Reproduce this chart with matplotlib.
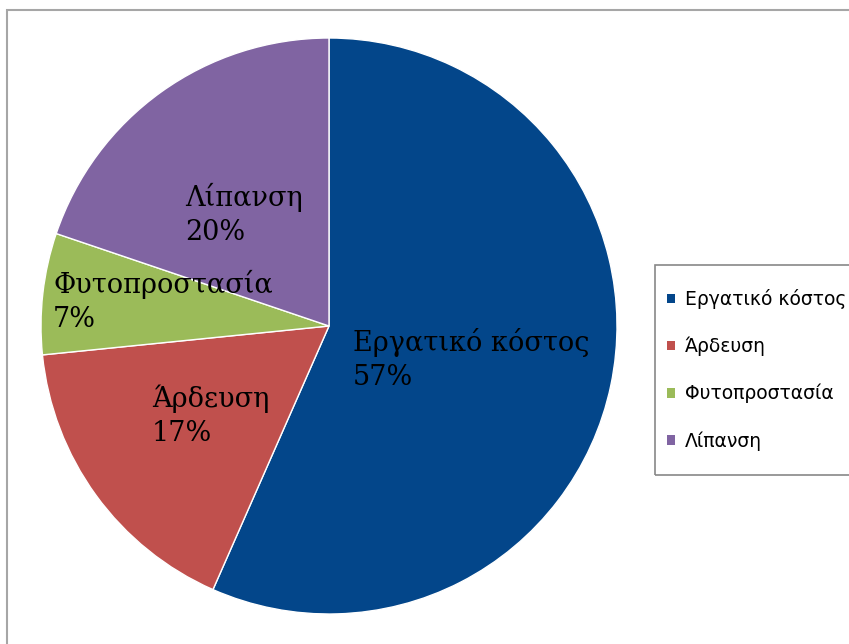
# Κατανομή κόστους καλλιέργειας - pie chart

import matplotlib.pyplot as plt
from matplotlib.patches import Rectangle, Patch

labels = ['Εργατικό κόστος', 'Άρδευση', 'Φυτοπροστασία', 'Λίπανση']
shares = [56.6, 16.8, 6.8, 19.8]
shown = ['57%', '17%', '7%', '20%']
colors = ['#03468A', '#C0504D', '#9BBB59', '#8064A2']

W, H = 849, 644
cx, cy, r = 329, 326, 288  # pie centre / radius in pixels

# label anchor (left edge, baseline of the % line) in pixels
label_pos = [(353, 385), (152, 441), (53, 327), (185, 240)]

fig = plt.figure(figsize=(W / 100, H / 100), dpi=100)
fig.patches.append(Rectangle((6.5 / W, -0.1), 1.2, 1.1 - 10.5 / H,
                             transform=fig.transFigure, fill=False,
                             edgecolor='#A6A6A6', linewidth=1.5))
# legend frame (runs off the right edge like the original)
fig.patches.append(Rectangle((655 / W, 1 - 475 / H), 0.5, 210 / H,
                             transform=fig.transFigure, fill=False,
                             edgecolor='#888888', linewidth=1.2))

ax = fig.add_axes([(cx - r) / W, (H - cy - r) / H, 2 * r / W, 2 * r / H])
ax.pie(shares, colors=colors, startangle=90, counterclock=False, radius=1,
       wedgeprops=dict(edgecolor='white', linewidth=1))
ax.set_xlim(-1, 1)
ax.set_ylim(-1, 1)
ax.set_aspect('equal')
ax.axis('off')

for (px, py), name, pct in zip(label_pos, labels, shown):
    x = (px - cx) / r
    y = (cy - py) / r
    ax.text(x, y, name + '\n' + pct, ha='left', va='baseline', fontsize=19.5,
            family='DejaVu Serif', linespacing=1.33,
            transform=ax.transData, clip_on=False)

handles = [Patch(facecolor=c, edgecolor='none') for c in colors]
leg = fig.legend(handles, labels, loc='upper left',
                 bbox_to_anchor=(667 / W, 1 - 289 / H),
                 prop={'family': 'DejaVu Sans', 'size': 13.5},
                 handlelength=0.4, handleheight=0.4, handletextpad=0.55,
                 labelspacing=1.48, borderpad=0, borderaxespad=0,
                 frameon=False)

fig.savefig('out.png', dpi=100)
